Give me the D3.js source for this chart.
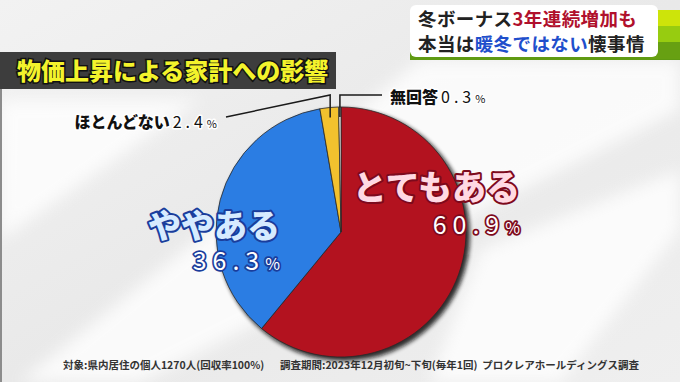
<!DOCTYPE html>
<html>
<head>
<meta charset="utf-8">
<script src="https://cdn.jsdelivr.net/npm/d3@7"></script>
<style>
  html, body { margin: 0; padding: 0; background: #e8e8e8; }
  svg { display: block; font-family: "Noto Sans CJK JP", "Noto Sans", sans-serif; }
</style>
</head>
<body>
<div id="chart"></div>
<script>
const WIDTH = 680;
const HEIGHT = 382;

// —— Data ——
const categories = ["とてもある", "ややある", "ほとんどない", "無回答"];
const values = [60.9, 36.3, 2.4, 0.3];
const valueLabels = ["60.9", "36.3", "2.4", "0.3"];
const sliceColors = ["#b3121f", "#2b7de3", "#f2c12e", "#fbfbfb"];

const chartTitle = "物価上昇による家計への影響";
const footnoteLeft = "対象:県内居住の個人1270人(回収率100%)";
const footnoteRight = "調査期間:2023年12月初旬~下旬(毎年1回)  プロクレアホールディングス調査";

const PIE = { cx: 341, cy: 232, r: 125 };

const svg = d3.select("#chart")
  .append("svg")
  .attr("width", WIDTH)
  .attr("height", HEIGHT)
  .attr("viewBox", `0 0 ${WIDTH} ${HEIGHT}`);

const defs = svg.append("defs");

const bg = defs.append("linearGradient")
  .attr("id", "bg").attr("x1", 0).attr("y1", 0).attr("x2", 1).attr("y2", 1);
bg.append("stop").attr("offset", "0%").attr("stop-color", "#f2f2f2");
bg.append("stop").attr("offset", "50%").attr("stop-color", "#e9e9e9");
bg.append("stop").attr("offset", "100%").attr("stop-color", "#efefef");

defs.append("filter").attr("id", "blur")
  .append("feGaussianBlur").attr("stdDeviation", 8);
defs.append("filter").attr("id", "shadow")
  .append("feGaussianBlur").attr("stdDeviation", 2);

// —— Background ——
svg.append("rect").attr("width", WIDTH).attr("height", HEIGHT).attr("fill", "url(#bg)");

const streaks = [
  [[420, 60], [680, 60], [680, 110], [140, 382], [20, 382]],
  [[480, 250], [680, 170], [680, 230], [560, 382], [430, 382]],
  [[0, 100], [200, 100], [0, 240]]
];
svg.append("g")
  .selectAll("polygon")
  .data(streaks)
  .join("polygon")
  .attr("points", (d) => d.map((p) => p.join(",")).join(" "))
  .attr("fill", "#ffffff")
  .attr("opacity", 0.8)
  .attr("filter", "url(#blur)");

svg.append("rect").attr("x", 0).attr("y", 88).attr("width", 2).attr("height", HEIGHT - 88).attr("fill", "#8c8c8c");

// —— Title bar ——
svg.append("rect").attr("x", 0).attr("y", 52).attr("width", 336).attr("height", 37).attr("fill", "#3d3d3d");
svg.append("text")
  .attr("x", 17).attr("y", 80)
  .attr("font-size", 24).attr("font-weight", 900)
  .attr("fill", "#f3f32c")
  .attr("stroke", "#111").attr("stroke-width", 3)
  .attr("paint-order", "stroke")
  .text(chartTitle);

// —— Header box (top right) ——
const header = svg.append("g");
header.append("rect").attr("x", 410).attr("y", 52).attr("width", 270).attr("height", 8).attr("fill", "#5f9a12");
[["#cde40a", 10], ["#97cc10", 26], ["#67a012", 42]].forEach(([c, y]) => {
  header.append("rect").attr("x", 650).attr("y", y).attr("width", 30).attr("height", 17).attr("fill", c);
});
header.append("rect")
  .attr("x", 410).attr("y", 5).attr("width", 248).attr("height", 52)
  .attr("rx", 6).attr("fill", "#ffffff");

const h1 = header.append("text").attr("x", 418).attr("y", 26)
  .attr("font-size", 18.5).attr("font-weight", 700).attr("fill", "#222")
  .attr("letter-spacing", 0.4);
h1.append("tspan").text("冬ボーナス");
h1.append("tspan").attr("fill", "#b0102c").text("3年連続増加も");

const h2 = header.append("text").attr("x", 418).attr("y", 51)
  .attr("font-size", 18.5).attr("font-weight", 700).attr("fill", "#222")
  .attr("letter-spacing", 0.4);
h2.append("tspan").text("本当は");
h2.append("tspan").attr("fill", "#1f4fcc").text("暖冬ではない");
h2.append("tspan").text("懐事情");

// —— Pie ——
const pie = d3.pie().sort(null).value((d) => d).startAngle(0).endAngle(2 * Math.PI);
const arcs = pie(values);
const arc = d3.arc().innerRadius(0).outerRadius(PIE.r);

const pieG = svg.append("g").attr("transform", `translate(${PIE.cx},${PIE.cy})`);

pieG.append("circle")
  .attr("cx", 3).attr("cy", 3).attr("r", PIE.r + 1)
  .attr("fill", "#111").attr("opacity", 0.85)
  .attr("filter", "url(#shadow)");

pieG.selectAll("path.slice")
  .data(arcs)
  .join("path")
  .attr("class", "slice")
  .attr("d", arc)
  .attr("fill", (d, i) => sliceColors[i])
  .attr("stroke", "#2a2a2a")
  .attr("stroke-width", 0.8);

// —— Big labels for the two main slices ——
function bigLabel(x, y, name, pct, fill, stroke, size, gap) {
  svg.append("text")
    .attr("x", x).attr("y", y)
    .attr("text-anchor", "end")
    .attr("font-size", size).attr("font-weight", 900)
    .attr("fill", fill)
    .attr("stroke", stroke).attr("stroke-width", 4)
    .attr("stroke-linejoin", "round")
    .attr("paint-order", "stroke")
    .text(name);
  const t = svg.append("text")
    .attr("x", x).attr("y", y + gap)
    .attr("text-anchor", "end")
    .attr("font-size", 25).attr("font-weight", 400)
    .attr("letter-spacing", 6)
    .attr("fill", "#ffffff")
    .attr("stroke", stroke).attr("stroke-width", 3.5)
    .attr("stroke-linejoin", "round")
    .attr("paint-order", "stroke");
  t.append("tspan").text(pct);
  t.append("tspan").attr("font-size", 16).attr("letter-spacing", 0).text("%");
}

bigLabel(520, 200, categories[0], valueLabels[0], "#ffd9e3", "#7d0a1c", 34, 34);
bigLabel(280, 238, categories[1], valueLabels[1], "#d6ebff", "#1a3d9c", 33, 32);

// —— Small labels with leader lines ——
const elbowY = PIE.cy - PIE.r - 12;
function leaderPoint(d, rr) {
  const a = (d.startAngle + d.endAngle) / 2;
  return [PIE.cx + Math.sin(a) * rr, PIE.cy - Math.cos(a) * rr];
}

const smallLabels = [
  { i: 2, side: "left", end: 226, textX: 217 },
  { i: 3, side: "right", end: 382, textX: 390 }
];

smallLabels.forEach((s) => {
  const [px, py] = leaderPoint(arcs[s.i], PIE.r - 10);
  const pts = s.side === "left"
    ? [[px, py], [px, elbowY], [s.end, elbowY + 22]]
    : [[px, py], [px, elbowY], [s.end, elbowY]];
  svg.append("path")
    .attr("d", d3.line()(pts))
    .attr("fill", "none")
    .attr("stroke", "#1a1a1a")
    .attr("stroke-width", 1.5);

  const y = s.side === "left" ? elbowY + 33 : elbowY + 8;
  const t = svg.append("text")
    .attr("x", s.textX).attr("y", y)
    .attr("text-anchor", s.side === "left" ? "end" : "start")
    .attr("font-size", 16)
    .attr("fill", "#111")
    .attr("stroke", "#ffffff").attr("stroke-width", 3)
    .attr("stroke-linejoin", "round")
    .attr("paint-order", "stroke");
  t.append("tspan").attr("font-weight", 900).text(categories[s.i]);
  t.append("tspan").attr("font-weight", 400).attr("dx", 3).attr("letter-spacing", 4).text(valueLabels[s.i]);
  t.append("tspan").attr("font-weight", 400).attr("font-size", 11).attr("letter-spacing", 0).text("%");
});

// —— Footnotes ——
svg.append("text")
  .attr("x", 63).attr("y", 369)
  .attr("font-size", 10.5).attr("font-weight", 700).attr("fill", "#333")
  .text(footnoteLeft);
svg.append("text")
  .attr("x", 280).attr("y", 369)
  .attr("font-size", 10.5).attr("font-weight", 700).attr("fill", "#333")
  .attr("xml:space", "preserve")
  .text(footnoteRight);
</script>
</body>
</html>
